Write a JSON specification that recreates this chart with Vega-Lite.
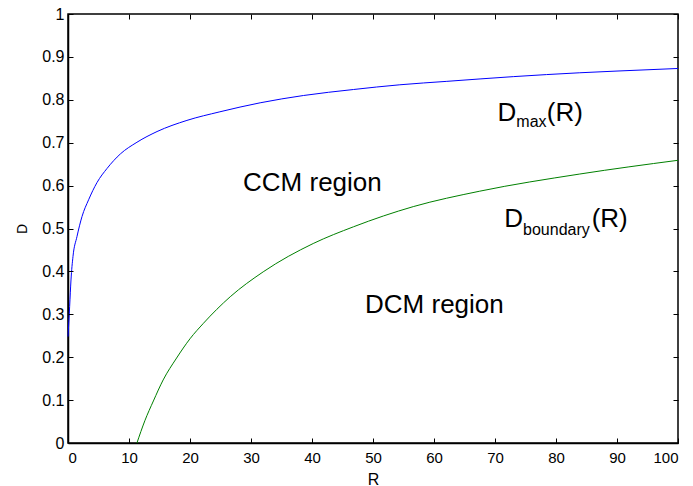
{
  "$schema": "https://vega.github.io/schema/vega-lite/v6.json",
  "width": 610,
  "height": 429,
  "autosize": "none",
  "padding": {"left": 68, "top": 14, "right": 15, "bottom": 43},
  "background": "white",
  "config": {
    "font": "Liberation Sans",
    "view": {"stroke": "black", "strokeWidth": 1.5},
    "axis": {
      "grid": false,
      "domainColor": "black",
      "domainWidth": 1.5,
      "labelColor": "black",
      "labelFont": "Liberation Sans",
      "titleFont": "Liberation Sans",
      "titleFontWeight": "normal",
      "titleColor": "black"
    },
    "axisX": {"labelFontSize": 15, "titleFontSize": 16},
    "axisY": {"labelFontSize": 16, "titleFontSize": 14}
  },
  "datasets": {
    "curves": [
      {"series": "Dmax", "R": 0, "D": 0.248},
      {"series": "Dmax", "R": 0.27, "D": 0.318},
      {"series": "Dmax", "R": 0.49, "D": 0.38},
      {"series": "Dmax", "R": 0.82, "D": 0.435},
      {"series": "Dmax", "R": 1.47, "D": 0.481},
      {"series": "Dmax", "R": 2.3, "D": 0.528},
      {"series": "Dmax", "R": 3.38, "D": 0.567},
      {"series": "Dmax", "R": 4.75, "D": 0.607},
      {"series": "Dmax", "R": 6.4, "D": 0.64},
      {"series": "Dmax", "R": 8.6, "D": 0.674},
      {"series": "Dmax", "R": 11.3, "D": 0.701},
      {"series": "Dmax", "R": 14.6, "D": 0.726},
      {"series": "Dmax", "R": 19.5, "D": 0.752},
      {"series": "Dmax", "R": 24.9, "D": 0.772},
      {"series": "Dmax", "R": 31.5, "D": 0.793},
      {"series": "Dmax", "R": 38.6, "D": 0.81},
      {"series": "Dmax", "R": 46.8, "D": 0.824},
      {"series": "Dmax", "R": 54.4, "D": 0.835},
      {"series": "Dmax", "R": 62.1, "D": 0.843},
      {"series": "Dmax", "R": 73.0, "D": 0.854},
      {"series": "Dmax", "R": 83.9, "D": 0.863},
      {"series": "Dmax", "R": 90.0, "D": 0.867},
      {"series": "Dmax", "R": 100, "D": 0.873},
      {"series": "Dboundary", "R": 11.3, "D": 0},
      {"series": "Dboundary", "R": 12.6, "D": 0.052},
      {"series": "Dboundary", "R": 14.0, "D": 0.098},
      {"series": "Dboundary", "R": 15.6, "D": 0.147},
      {"series": "Dboundary", "R": 17.8, "D": 0.198},
      {"series": "Dboundary", "R": 20.0, "D": 0.243},
      {"series": "Dboundary", "R": 22.2, "D": 0.279},
      {"series": "Dboundary", "R": 26.6, "D": 0.341},
      {"series": "Dboundary", "R": 32.0, "D": 0.399},
      {"series": "Dboundary", "R": 40.2, "D": 0.465},
      {"series": "Dboundary", "R": 46.8, "D": 0.504},
      {"series": "Dboundary", "R": 56.6, "D": 0.551},
      {"series": "Dboundary", "R": 67.5, "D": 0.587},
      {"series": "Dboundary", "R": 83.9, "D": 0.627},
      {"series": "Dboundary", "R": 100, "D": 0.659}
    ],
    "bigText": [
      {"label": "CCM region", "R": 28.7, "D": 0.588},
      {"label": "DCM region", "R": 48.7, "D": 0.302},
      {"label": "D", "R": 70.4, "D": 0.75},
      {"label": "(R)", "R": 78.5, "D": 0.75},
      {"label": "D", "R": 71.5, "D": 0.504},
      {"label": "(R)", "R": 85.85, "D": 0.504}
    ],
    "subText": [
      {"label": "max", "R": 73.5, "D": 0.737},
      {"label": "boundary", "R": 74.6, "D": 0.485}
    ]
  },
  "resolve": {"axis": {"x": "independent", "y": "independent"}},
  "layer": [
    {
      "data": {"name": "curves"},
      "mark": {"type": "line", "strokeWidth": 1, "interpolate": "monotone"},
      "encoding": {
        "x": {
          "field": "R", "type": "quantitative",
          "scale": {"domain": [0, 100], "nice": false},
          "axis": {"orient": "bottom", "values": [0,10,20,30,40,50,60,70,80,90,100], "labelExpr": "'' + datum.value", "title": "R", "ticks": false, "tickSize": 0, "labelPadding": 7, "titlePadding": 6}
        },
        "y": {
          "field": "D", "type": "quantitative",
          "scale": {"domain": [0, 1], "nice": false},
          "axis": {"orient": "left", "values": [0,0.1,0.2,0.3,0.4,0.5,0.6,0.7,0.8,0.9,1], "labelExpr": "'' + datum.value", "title": "D", "ticks": false, "tickSize": 0, "labelPadding": 4, "titlePadding": 12}
        },
        "color": {
          "field": "series", "type": "nominal",
          "scale": {"domain": ["Dmax", "Dboundary"], "range": ["#0000ff", "#008000"]},
          "legend": null
        },
        "detail": {"field": "series"}
      }
    },
    {
      "data": {"name": "curves"},
      "mark": {"type": "point", "opacity": 0},
      "encoding": {
        "x": {
          "field": "R", "type": "quantitative",
          "axis": {"orient": "top", "offset": -429, "zindex": 1, "values": [0,10,20,30,40,50,60,70,80,90,100], "labels": false, "title": null, "domain": false, "ticks": true, "tickSize": 5, "tickWidth": 1, "tickColor": "#000000"}
        },
        "y": {
          "field": "D", "type": "quantitative",
          "axis": {"orient": "right", "offset": -610, "zindex": 1, "values": [0,0.1,0.2,0.3,0.4,0.5,0.6,0.7,0.8,0.9,1], "labels": false, "title": null, "domain": false, "ticks": true, "tickSize": 5, "tickWidth": 1, "tickColor": "#000000"}
        }
      }
    },
    {
      "data": {"name": "curves"},
      "mark": {"type": "point", "opacity": 0},
      "encoding": {
        "x": {
          "field": "R", "type": "quantitative",
          "axis": {"orient": "bottom", "offset": -429, "zindex": 1, "values": [0,10,20,30,40,50,60,70,80,90,100], "labels": false, "title": null, "domain": false, "ticks": true, "tickSize": 5, "tickWidth": 1, "tickColor": "#000000"}
        },
        "y": {
          "field": "D", "type": "quantitative",
          "axis": {"orient": "left", "offset": -610, "zindex": 1, "values": [0,0.1,0.2,0.3,0.4,0.5,0.6,0.7,0.8,0.9,1], "labels": false, "title": null, "domain": false, "ticks": true, "tickSize": 5, "tickWidth": 1, "tickColor": "#000000"}
        }
      }
    },
    {
      "data": {"name": "bigText"},
      "mark": {"type": "text", "align": "left", "baseline": "alphabetic", "fontSize": 26, "font": "Liberation Sans", "color": "black"},
      "encoding": {
        "x": {"field": "R", "type": "quantitative", "axis": null},
        "y": {"field": "D", "type": "quantitative", "axis": null},
        "text": {"field": "label"}
      }
    },
    {
      "data": {"name": "subText"},
      "mark": {"type": "text", "align": "left", "baseline": "alphabetic", "fontSize": 16, "font": "Liberation Sans", "color": "black"},
      "encoding": {
        "x": {"field": "R", "type": "quantitative", "axis": null},
        "y": {"field": "D", "type": "quantitative", "axis": null},
        "text": {"field": "label"}
      }
    }
  ]
}
